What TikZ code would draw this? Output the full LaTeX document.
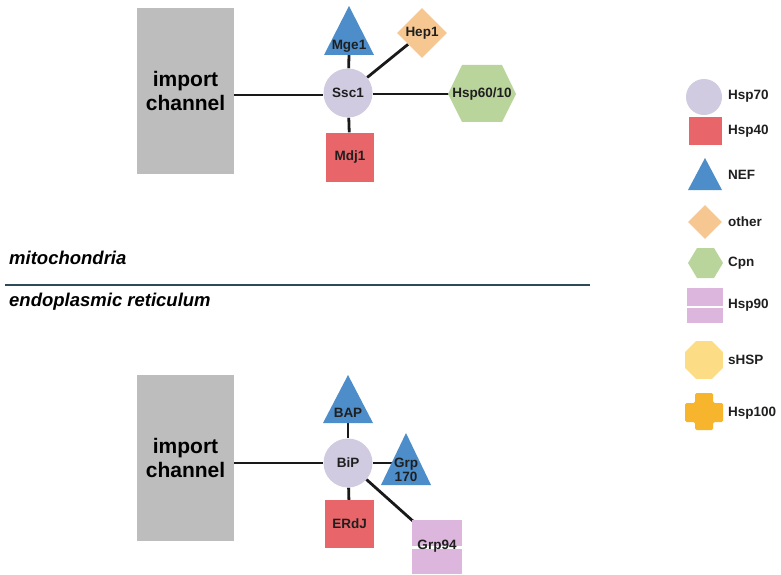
\documentclass[tikz,border=0pt]{standalone}
\usepackage{fontspec}
\setmainfont{Liberation Sans}
\usetikzlibrary{shapes.geometric,backgrounds}
\definecolor{chgray}{HTML}{BDBDBD}
\definecolor{hspseventy}{HTML}{D0CBE1}
\definecolor{hspforty}{HTML}{E8666A}
\definecolor{nefblue}{HTML}{4C8DCA}
\definecolor{otherorange}{HTML}{F7C792}
\definecolor{cpngreen}{HTML}{BAD59C}
\definecolor{hspninety}{HTML}{DDB6DD}
\definecolor{shspyellow}{HTML}{FCDC84}
\definecolor{hsphundred}{HTML}{F6B52C}
\definecolor{sepcol}{HTML}{2E4A57}
\begin{document}
\begin{tikzpicture}[x=1pt,y=-1pt,
  lbl/.style={font=\bfseries\fontsize{13.5}{14}\selectfont, text=black!88, inner sep=0, align=center},
  legtext/.style={anchor=west, font=\bfseries\fontsize{13.5}{14}\selectfont, text=black!88, inner sep=0},
  chan/.style={fill=chgray, minimum width=97, minimum height=166, inner sep=0, align=center, font=\bfseries\fontsize{21}{24}\selectfont},
  conn/.style={line width=2.8pt, black!90},
  region/.style={anchor=west, inner sep=0, font=\bfseries\itshape\fontsize{18.5}{20}\selectfont}]
\useasboundingbox (0,0) rectangle (781,575);

% ---------- mitochondria ----------
\node[chan] (ic1) at (185.5,91) {import\\channel};
\node[circle, fill=hspseventy, minimum size=49, inner sep=0, lbl] (ssc1) at (348,93) {Ssc1};
\fill[nefblue] (349,6) -- (374,55) -- (324,55) -- cycle;
\node[lbl] (mge1) at (349,46) {Mge1};
\coordinate (mge1b) at (349,55);
\node[diamond, fill=otherorange, minimum size=50, inner sep=0, lbl] (hep1) at (422,33) {Hep1};
\fill[cpngreen] (448,94) -- (462,65) -- (502,65) -- (516,94) -- (502,122) -- (462,122) -- cycle;
\node[lbl] (hsp6010) at (482,94) {Hsp60/10};
\node[rectangle, fill=hspforty, minimum width=48, minimum height=49, inner sep=0, lbl] (mdj1) at (350,157) {Mdj1};

% ---------- separator ----------
\node[region] (mito) at (9,258) {mitochondria};
\coordinate (sepl) at (5,285);
\coordinate (sepr) at (590,285);
\draw[line width=1.4pt, sepcol] (sepl) -- (sepr);
\node[region] (er) at (9,302) {endoplasmic reticulum};

% ---------- ER ----------
\node[chan] (ic2) at (185.5,458) {import\\channel};
\node[circle, fill=hspseventy, minimum size=49, inner sep=0, lbl] (bip) at (348,463) {BiP};
\fill[nefblue] (348,375) -- (373,423) -- (323,423) -- cycle;
\node[lbl] (bap) at (348,413) {BAP};
\coordinate (bapb) at (348,423);
\fill[nefblue] (406,433) -- (431,485) -- (381,485) -- cycle;
\node[lbl, font=\bfseries\fontsize{13.5}{14.5}\selectfont] (grp170) at (406,470) {Grp\\170};
\coordinate (grp170l) at (393,463);
\node[rectangle, fill=hspforty, minimum width=49, minimum height=48, inner sep=0, lbl] (erdj) at (349.5,524) {ERdJ};
\fill[hspninety] (412,520) rectangle (462,546);
\fill[hspninety] (412,548.5) rectangle (462,574);
\node[lbl] (grp94) at (437,546) {Grp94};
\coordinate (grp94c) at (414,522);

% ---------- connectors ----------
\begin{scope}[on background layer]
\draw[conn] (ic1.east |- 0,95) -- (ssc1.west |- 0,95);
\draw[conn] (mge1b) -- (ssc1);
\draw[conn] (ssc1) -- (hep1);
\draw[conn] (ssc1.east |- 0,94) -- (hsp6010.west |- 0,94);
\draw[conn] (ssc1) -- (mdj1);
\draw[conn] (ic2.east |- 0,463) -- (bip.west);
\draw[conn] (bapb) -- (bip);
\draw[conn] (bip.east) -- (grp170l);
\draw[conn] (bip) -- (erdj);
\draw[conn] (bip) -- (grp94c);
\end{scope}

% ---------- legend ----------
\node[circle, fill=hspseventy, minimum size=36, inner sep=0] (lg1) at (704,97) {};
\node[legtext] (lt1) at (728,96) {Hsp70};
\node[rectangle, fill=hspforty, minimum width=33, minimum height=28, inner sep=0] (lg2) at (705.5,131) {};
\node[legtext] (lt2) at (728,131) {Hsp40};
\fill[nefblue] (705,158) -- (722,190) -- (688,190) -- cycle;
\node[legtext] (lt3) at (728,175) {NEF};
\node[diamond, fill=otherorange, minimum size=34, inner sep=0] (lg4) at (705,222) {};
\node[legtext] (lt4) at (728,222) {other};
\fill[cpngreen] (688,263) -- (697,248) -- (714,248) -- (723,263) -- (714,278) -- (697,278) -- cycle;
\node[legtext] (lt5) at (728,263) {Cpn};
\fill[hspninety] (687,288) rectangle (723,306);
\fill[hspninety] (687,308) rectangle (723,323);
\node[legtext] (lt6) at (728,305) {Hsp90};
\node[regular polygon, regular polygon sides=8, fill=shspyellow, minimum size=41, inner sep=0] (lg7) at (704,360) {};
\node[legtext] (lt7) at (728,360) {sHSP};
\fill[hsphundred, rounded corners=1.5pt] (695,393) -- (713,393) -- (713,403) -- (723,403) -- (723,422) -- (713,422) -- (713,430) -- (695,430) -- (695,422) -- (685,422) -- (685,403) -- (695,403) -- cycle;
\node[legtext] (lt8) at (728,413) {Hsp100};
\end{tikzpicture}
\end{document}
